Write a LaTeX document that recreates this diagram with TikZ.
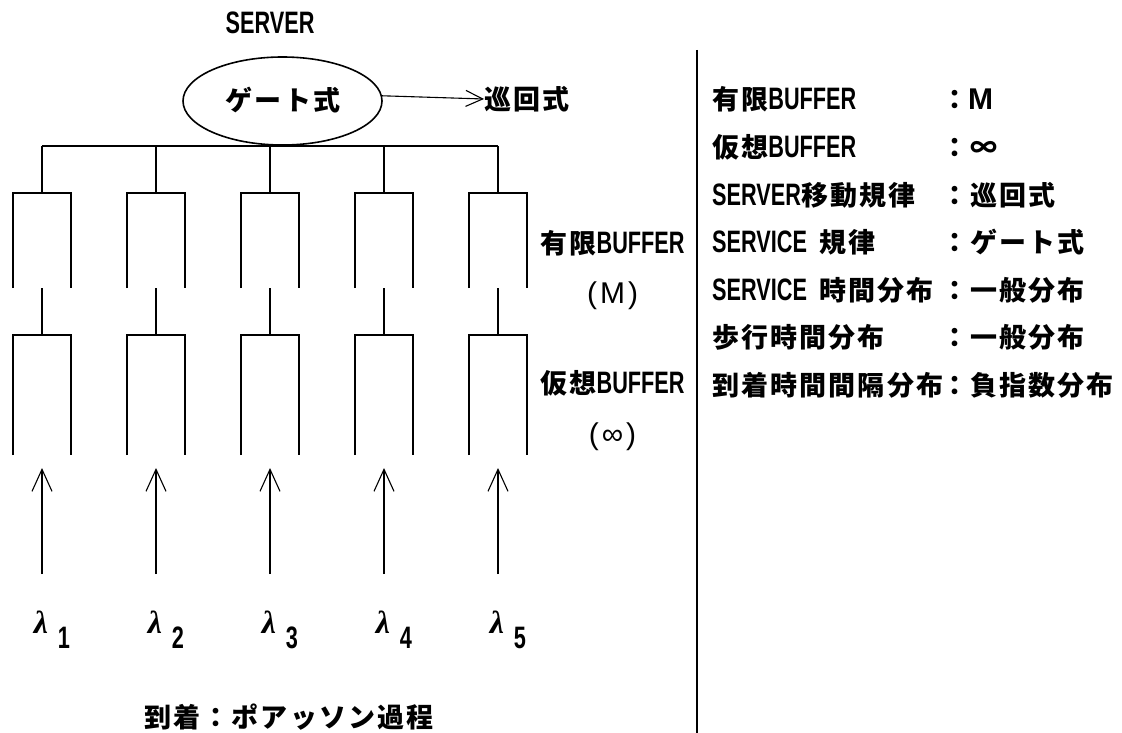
\documentclass[tikz,border=0pt]{standalone}
\usepackage{fontspec}
\usetikzlibrary{arrows.meta,shapes.geometric}
\newfontfamily\jp[LetterSpace=8]{Noto Sans CJK JP}
\newfontfamily\lt[FakeStretch=0.7]{Liberation Sans}
\newfontfamily\ltn{Liberation Sans}
\newfontfamily\grk{Liberation Serif}
\newcommand\J[1]{{\jp\bfseries\fontsize{27}{30}\selectfont #1}}
\begin{document}
\begin{tikzpicture}[x=1pt,y=-1pt,
  box/.style={line width=1.6pt},
  conn/.style={line width=1.5pt},
  arr/.style={line width=1.1pt,-{Straight Barb[length=22pt,width=20pt]}},
  txt/.style={inner sep=0pt,anchor=base west,font=\lt\bfseries\fontsize{31}{33}\selectfont},
  lam/.style={inner sep=0pt,anchor=base,font=\grk\bfseries\itshape\fontsize{32}{34}\selectfont},
  sub/.style={inner sep=0pt,anchor=base,font=\lt\bfseries\fontsize{31}{33}\selectfont}]
\useasboundingbox (0,0) rectangle (1122,733);

% server
\node[txt,anchor=base] (server) at (270,34) {SERVER};
\node[draw,ellipse,line width=1.6pt,minimum width=199pt,minimum height=88pt,inner sep=0pt] (srv) at (282.5,101) {};
\node[txt,anchor=center] (gate) at (283,100) {\J{ゲート式}};
\node[txt,anchor=west] (jr) at (484,99) {\J{巡回式}};
\draw[line width=1.1pt,-{Straight Barb[length=17pt,width=16pt]}] (srv.3) -- (jr.west);

% columns
\foreach \x [count=\i] in {42,156,270,384,498} {
  \coordinate (bus\i) at (\x,146);
  \coordinate (ut\i) at (\x,193);
  \coordinate (ub\i) at (\x,288);
  \coordinate (lt\i) at (\x,335);
  \coordinate (lb\i) at (\x,455);
  \coordinate (at\i) at (\x,468);
  \coordinate (as\i) at (\x,574);
  \draw[conn] (bus\i) -- (ut\i);
  \draw[box] ([xshift=-29pt]ub\i) |- ([xshift=29pt]ut\i) -- ([xshift=29pt]ub\i);
  \draw[conn] (ub\i) -- (lt\i);
  \draw[box] ([xshift=-29pt]lb\i) |- ([xshift=29pt]lt\i) -- ([xshift=29pt]lb\i);
  \draw[arr] (as\i) -- (at\i);
  \node[lam] (l\i) at (\x-1,633) {λ};
  \node[sub] (s\i) at (\x+22,648) {\i};
}
\draw[conn] (bus1) -- (bus5);

% middle labels
\node[txt,anchor=base] (fb) at (612.5,253) {\J{有限}BUFFER};
\node[txt,anchor=base] (fbm) at (612.5,303) {\ltn\mdseries\fontsize{30}{32}\selectfont(\hspace{3pt}M\hspace{3pt})};
\node[txt,anchor=base] (vb) at (612.5,393) {\J{仮想}BUFFER};
\node[txt,anchor=base] (vbm) at (612.5,444) {\ltn\mdseries\fontsize{30}{32}\selectfont(\hspace{3pt}∞\hspace{3pt})};

% divider
\coordinate (dv1) at (697,50);
\coordinate (dv2) at (697,733);
\draw[line width=1.4pt] (dv1) -- (dv2);

% list
\node[txt] (k1) at (712,110) {\J{有限}BUFFER};
\node[txt] (k2) at (712,157.5) {\J{仮想}BUFFER};
\node[txt] (k3) at (712,205) {SERVER\J{移動規律}};
\node[txt] (k4) at (712,252.5) {SERVICE\hspace{12pt}\J{規律}};
\node[txt] (k5) at (712,300) {SERVICE\hspace{12pt}\J{時間分布}};
\node[txt] (k6) at (712,347.5) {\J{歩行時間分布}};
\node[txt] (k7) at (712,395) {\J{到着時間間隔分布}};

\node[txt] (v1) at (941,110) {\J{：}{\ltn\bfseries\fontsize{30}{32}\selectfont M}};
\node[txt] (v2) at (941,157.5) {\J{：∞}};
\node[txt] (v3) at (941,205) {\J{：巡回式}};
\node[txt] (v4) at (941,252.5) {\J{：ゲート式}};
\node[txt] (v5) at (941,300) {\J{：一般分布}};
\node[txt] (v6) at (941,347.5) {\J{：一般分布}};
\node[txt] (v7) at (941,395) {\J{：負指数分布}};

% bottom
\node[txt,anchor=base] (arrival) at (289,727) {\J{到着：ポアッソン過程}};
\end{tikzpicture}
\end{document}
